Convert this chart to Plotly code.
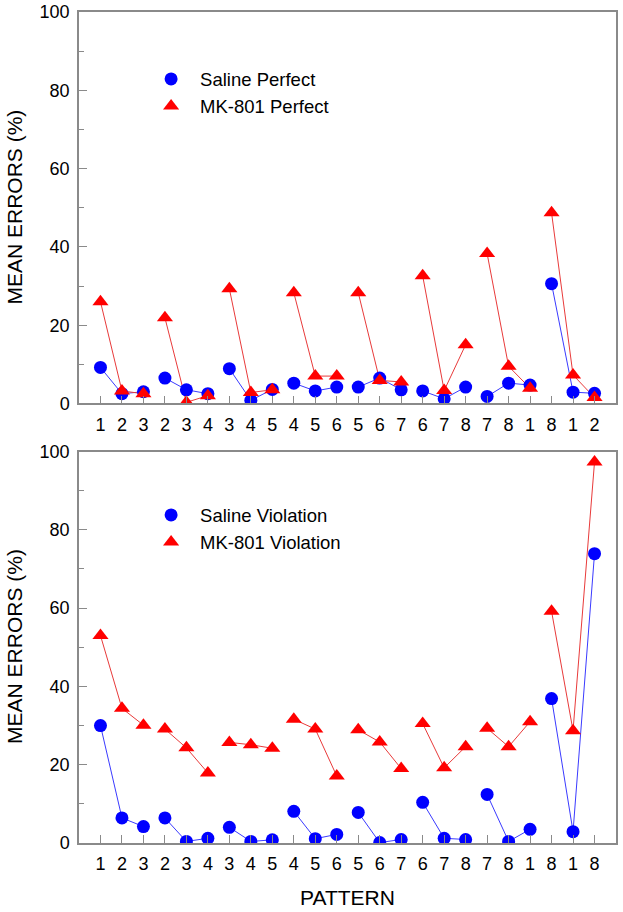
import plotly.graph_objects as go
from plotly.subplots import make_subplots

# ---- data ----
positions = list(range(1, 25))
top_ticktext = ["1", "2", "3", "2", "3", "4", "3", "4", "5", "4", "5", "6",
                "5", "6", "7", "6", "7", "8", "7", "8", "1", "8", "1", "2"]
bottom_ticktext = ["1", "2", "3", "2", "3", "4", "3", "4", "5", "4", "5", "6",
                   "5", "6", "7", "6", "7", "8", "7", "8", "1", "8", "1", "8"]

saline_perfect = [9.2, 2.5, 3.0, 6.5, 3.5, 2.5, 8.9, 0.8, 3.6, 5.2, 3.2, 4.2,
                  4.2, 6.5, 3.5, 3.2, 1.2, 4.2, 1.8, 5.2, 4.7, 30.6, 2.9, 2.6]
mk801_perfect = [26.0, 3.2, 2.5, 21.9, 0.3, 2.0, 29.3, 2.8, 3.5, 28.3, 7.0, 7.0,
                 28.3, 5.9, 5.5, 32.6, 3.3, 15.0, 38.3, 9.5, 3.9, 48.7, 7.3, 1.5]

saline_violation = [30.0, 6.4, 4.2, 6.4, 0.4, 1.2, 4.0, 0.4, 0.8, 8.1, 1.1, 2.2,
                    7.8, 0.1, 0.9, 10.4, 1.2, 0.9, 12.4, 0.4, 3.5, 36.9, 2.9, 73.9]
mk801_violation = [53.0, 34.4, 30.1, 29.1, 24.3, 17.9, 25.7, 25.1, 24.2, 31.6, 29.1, 17.1,
                   28.9, 25.8, 19.0, 30.5, 19.2, 24.6, 29.3, 24.6, 31.0, 59.2, 28.7, 97.3]

y_title = "MEAN ERRORS (%)"
x_title = "PATTERN"
group_size = 3


def with_gaps(xs, ys, n):
    gx, gy = [], []
    for i in range(0, len(xs), n):
        gx += xs[i:i + n] + [None]
        gy += ys[i:i + n] + [None]
    return gx, gy


FONT = "Arial, Liberation Sans, sans-serif"
BLUE = "#0000ff"
RED = "#ff0000"
BLUE_LINE = "#3a3aff"
RED_LINE = "#e83a3a"
AXIS_GRAY = "#8a8a8a"

fig = make_subplots(rows=2, cols=1, vertical_spacing=0.0578)

series = [
    (1, saline_perfect, "Saline Perfect", "circle", BLUE, BLUE_LINE, 13, "legend"),
    (1, mk801_perfect, "MK-801 Perfect", "triangle-up", RED, RED_LINE, 14, "legend"),
    (2, saline_violation, "Saline Violation", "circle", BLUE, BLUE_LINE, 13, "legend2"),
    (2, mk801_violation, "MK-801 Violation", "triangle-up", RED, RED_LINE, 14, "legend2"),
]
# connecting lines (no legend entry)
for row, vals, name, sym, mcol, lcol, msize, leg in series:
    gx, gy = with_gaps(positions, vals, group_size)
    fig.add_trace(go.Scatter(
        x=gx, y=gy, mode="lines", name=name, showlegend=False,
        line=dict(color=lcol, width=1), connectgaps=False, hoverinfo="skip",
    ), row=row, col=1)
# markers (legend shows markers only)
for row, vals, name, sym, mcol, lcol, msize, leg in series:
    fig.add_trace(go.Scatter(
        x=positions, y=vals, mode="markers", name=name,
        marker=dict(symbol=sym, color=mcol, size=msize, line=dict(width=0)),
        legend=leg,
    ), row=row, col=1)

for row, ttext in [(1, top_ticktext), (2, bottom_ticktext)]:
    fig.update_xaxes(
        row=row, col=1, range=[0, 25], tickmode="array", tickvals=positions,
        ticktext=ttext, ticks="inside", ticklen=8, tickcolor=AXIS_GRAY,
        showline=True, linecolor=AXIS_GRAY, linewidth=1.5, mirror=True,
        showgrid=False, zeroline=False, automargin=False,
        ticklabelstandoff=4, ticklabeloverflow="allow",
        tickfont=dict(family=FONT, size=18, color="black"),
    )
    fig.update_yaxes(
        row=row, col=1, range=[0, 100], tickvals=[0, 20, 40, 60, 80, 100],
        ticks="inside", ticklen=8, tickcolor=AXIS_GRAY,
        minor=dict(tickvals=[10, 30, 50, 70, 90], ticks="inside", ticklen=5,
                   tickcolor=AXIS_GRAY),
        showline=True, linecolor=AXIS_GRAY, linewidth=1.5, mirror=True,
        showgrid=False, zeroline=False, automargin=False,
        ticklabelstandoff=4, ticklabeloverflow="allow",
        tickfont=dict(family=FONT, size=18, color="black"),
    )

fig.update_xaxes(row=2, col=1,
                 title=dict(text=x_title, font=dict(family=FONT, size=21, color="black"),
                            standoff=17))

# y-axis titles as rotated annotations centred on each panel
for ycen in (0.7647, 0.2359):
    fig.add_annotation(
        text=y_title, textangle=-90, xref="paper", yref="paper",
        x=0, y=ycen, xanchor="center", yanchor="middle", xshift=-64,
        showarrow=False, font=dict(family=FONT, size=21, color="black"),
    )

legend_common = dict(
    xref="paper", yref="paper", xanchor="left", yanchor="top",
    bgcolor="rgba(0,0,0,0)", borderwidth=0, itemwidth=48,
    font=dict(family=FONT, size=18.5, color="black"),
)
fig.update_layout(
    width=623, height=912,
    margin=dict(l=79, r=7, t=12, b=69, autoexpand=False),
    plot_bgcolor="white", paper_bgcolor="white",
    showlegend=True,
    legend=dict(x=0.1175, y=0.9418, **legend_common),
    legend2=dict(x=0.1175, y=0.4171, **legend_common),
    font=dict(family=FONT, color="black"),
)

fig.write_html("out.html", config={"displayModeBar": False},
               post_script="document.body.style.margin='0';")
